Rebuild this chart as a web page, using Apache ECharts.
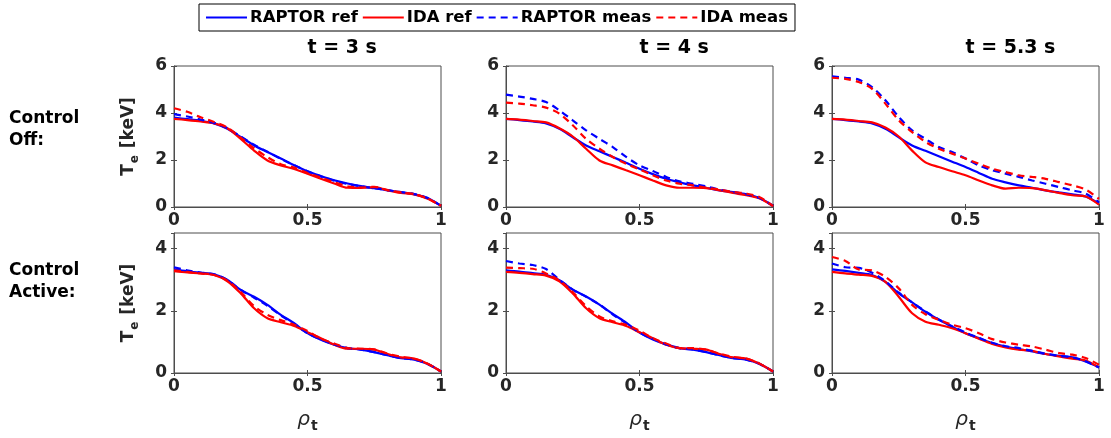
<!DOCTYPE html>
<html>
<head>
<meta charset="utf-8">
<script src="https://cdn.jsdelivr.net/npm/echarts@6/dist/echarts.min.js"></script>
<style>
  html, body { margin: 0; padding: 0; background: #fff; }
  #main { width: 1111px; height: 438px; }
</style>
</head>
<body>
<div id="main"></div>
<script>
// rho_t grid
var rho = [0, 0.05, 0.1, 0.15, 0.2, 0.25, 0.3, 0.35, 0.4, 0.45, 0.5, 0.55, 0.6, 0.65, 0.7, 0.75, 0.8, 0.85, 0.9, 0.95, 1];

var titulos = ['t = 3 s', 't = 4 s', 't = 5.3 s'];
var seriesNames = ['RAPTOR ref', 'IDA ref', 'RAPTOR meas', 'IDA meas'];
var xTicks = [0, 0.5, 1];
var yMaxLinha = [6, 4.5];

// Control Off
var raptorRef1 = [3.8, 3.74, 3.67, 3.56, 3.33, 2.98, 2.62, 2.34, 2.06, 1.78, 1.52, 1.32, 1.14, 1.0, 0.89, 0.8, 0.71, 0.63, 0.54, 0.38, 0.05];
var idaRef1 = [3.75, 3.7, 3.64, 3.56, 3.35, 2.9, 2.4, 1.98, 1.77, 1.62, 1.42, 1.2, 1.0, 0.82, 0.81, 0.85, 0.71, 0.6, 0.54, 0.35, 0.05];
var raptorMeas1 = [3.95, 3.85, 3.72, 3.58, 3.35, 3.0, 2.65, 2.35, 2.05, 1.78, 1.52, 1.3, 1.12, 0.98, 0.88, 0.8, 0.72, 0.63, 0.55, 0.38, 0.05];
var idaMeas1 = [4.2, 4.05, 3.82, 3.62, 3.38, 2.95, 2.5, 2.12, 1.82, 1.68, 1.45, 1.25, 1.05, 0.88, 0.83, 0.86, 0.72, 0.62, 0.55, 0.36, 0.05];

var raptorRef2 = [3.75, 3.7, 3.64, 3.56, 3.33, 2.97, 2.62, 2.37, 2.13, 1.88, 1.63, 1.4, 1.2, 1.05, 0.92, 0.82, 0.71, 0.63, 0.54, 0.38, 0.05];
var idaRef2 = [3.75, 3.72, 3.66, 3.6, 3.35, 3.0, 2.48, 1.98, 1.77, 1.56, 1.35, 1.13, 0.92, 0.82, 0.82, 0.8, 0.71, 0.6, 0.5, 0.36, 0.04];
var raptorMeas2 = [4.78, 4.7, 4.6, 4.47, 4.11, 3.69, 3.26, 2.9, 2.55, 2.13, 1.77, 1.53, 1.28, 1.09, 0.99, 0.88, 0.74, 0.64, 0.54, 0.38, 0.05];
var idaMeas2 = [4.44, 4.4, 4.33, 4.23, 3.97, 3.48, 2.9, 2.48, 2.13, 1.84, 1.6, 1.35, 1.13, 0.99, 0.92, 0.82, 0.74, 0.64, 0.57, 0.42, 0.04];

var raptorRef3 = [3.75, 3.7, 3.64, 3.56, 3.33, 2.97, 2.62, 2.39, 2.16, 1.93, 1.7, 1.45, 1.2, 1.05, 0.92, 0.82, 0.71, 0.62, 0.54, 0.45, 0.15];
var idaRef3 = [3.75, 3.72, 3.66, 3.6, 3.38, 3.0, 2.4, 1.9, 1.7, 1.52, 1.35, 1.13, 0.92, 0.78, 0.82, 0.8, 0.71, 0.6, 0.5, 0.45, 0.1];
var raptorMeas3 = [5.56, 5.5, 5.42, 5.1, 4.54, 3.83, 3.26, 2.9, 2.55, 2.34, 2.06, 1.77, 1.56, 1.42, 1.28, 1.13, 0.99, 0.85, 0.71, 0.57, 0.2];
var idaMeas3 = [5.5, 5.45, 5.32, 5.03, 4.4, 3.69, 3.19, 2.77, 2.48, 2.27, 2.06, 1.84, 1.63, 1.49, 1.35, 1.28, 1.2, 1.06, 0.92, 0.74, 0.35];

// Control Active
var raptorRef4 = [3.33, 3.27, 3.22, 3.17, 2.99, 2.67, 2.45, 2.19, 1.87, 1.6, 1.28, 1.07, 0.91, 0.8, 0.75, 0.67, 0.57, 0.48, 0.43, 0.29, 0.05];
var idaRef4 = [3.27, 3.23, 3.2, 3.15, 2.95, 2.56, 2.08, 1.76, 1.63, 1.51, 1.31, 1.12, 0.91, 0.78, 0.78, 0.75, 0.61, 0.5, 0.46, 0.3, 0.05];
var raptorMeas4 = [3.4, 3.3, 3.23, 3.17, 2.99, 2.67, 2.42, 2.16, 1.85, 1.58, 1.28, 1.08, 0.92, 0.8, 0.75, 0.67, 0.57, 0.48, 0.43, 0.29, 0.05];
var idaMeas4 = [3.3, 3.25, 3.2, 3.15, 2.97, 2.6, 2.15, 1.87, 1.7, 1.55, 1.35, 1.1, 0.95, 0.8, 0.78, 0.76, 0.62, 0.52, 0.46, 0.3, 0.05];

var raptorRef5 = [3.3, 3.26, 3.21, 3.16, 2.98, 2.68, 2.46, 2.2, 1.9, 1.62, 1.3, 1.08, 0.92, 0.8, 0.75, 0.67, 0.57, 0.48, 0.43, 0.29, 0.05];
var idaRef5 = [3.25, 3.22, 3.18, 3.13, 2.95, 2.56, 2.08, 1.76, 1.63, 1.51, 1.31, 1.12, 0.91, 0.8, 0.78, 0.75, 0.61, 0.5, 0.46, 0.3, 0.05];
var raptorMeas5 = [3.6, 3.52, 3.47, 3.34, 3.0, 2.68, 2.45, 2.2, 1.88, 1.6, 1.3, 1.1, 0.92, 0.8, 0.76, 0.67, 0.57, 0.48, 0.43, 0.29, 0.05];
var idaMeas5 = [3.39, 3.37, 3.35, 3.2, 2.97, 2.6, 2.15, 1.82, 1.66, 1.55, 1.36, 1.12, 0.95, 0.8, 0.8, 0.75, 0.62, 0.52, 0.46, 0.3, 0.05];

var raptorRef6 = [3.33, 3.28, 3.22, 3.15, 2.93, 2.56, 2.27, 1.97, 1.71, 1.49, 1.28, 1.12, 0.96, 0.85, 0.77, 0.69, 0.61, 0.55, 0.5, 0.37, 0.18];
var idaRef6 = [3.25, 3.2, 3.16, 3.12, 2.93, 2.45, 1.92, 1.65, 1.55, 1.44, 1.28, 1.1, 0.93, 0.82, 0.75, 0.71, 0.61, 0.53, 0.46, 0.4, 0.18];
var raptorMeas6 = [3.52, 3.4, 3.38, 3.22, 2.95, 2.58, 2.27, 1.98, 1.72, 1.5, 1.3, 1.13, 0.97, 0.86, 0.8, 0.71, 0.62, 0.55, 0.5, 0.38, 0.18];
var idaMeas6 = [3.73, 3.6, 3.33, 3.3, 3.09, 2.72, 2.19, 1.89, 1.71, 1.55, 1.44, 1.28, 1.09, 0.98, 0.91, 0.85, 0.75, 0.64, 0.59, 0.48, 0.27];

var paineis = [
	[raptorRef1, idaRef1, raptorMeas1, idaMeas1],
	[raptorRef2, idaRef2, raptorMeas2, idaMeas2],
	[raptorRef3, idaRef3, raptorMeas3, idaMeas3],
	[raptorRef4, idaRef4, raptorMeas4, idaMeas4],
	[raptorRef5, idaRef5, raptorMeas5, idaMeas5],
	[raptorRef6, idaRef6, raptorMeas6, idaMeas6]
];

var cores = ['#0000ff', '#ff0000', '#0000ff', '#ff0000'];
var tipos = ['solid', 'solid', [7, 5], [7, 5]];

var fonte = 'DejaVu Sans';
var corTexto = '#262626';
var colLeft = [174, 506, 832];
var colWidth = 267;
var rowTop = [66, 233];
var rowHeight = [141, 140];

var grids = [], xAxes = [], yAxes = [], series = [], graphics = [];

function juntar(xs, ys) {
	return xs.map(function(x, i) { return [x, ys[i]]; });
}

for (let p = 0; p < 6; p++) {
	let linha = Math.floor(p / 3);
	let col = p % 3;
	grids.push({
		left: colLeft[col], top: rowTop[linha], width: colWidth, height: rowHeight[linha],
		show: true, borderColor: '#4d4d4d', borderWidth: 1, backgroundColor: '#fff'
	});

	let eixoX = {
		type: 'value', gridIndex: p, min: 0, max: 1, interval: 0.5,
		axisLine: { show: true, lineStyle: { color: '#4d4d4d', width: 1 } },
		axisTick: { show: true, inside: true, length: 3, lineStyle: { color: '#4d4d4d' } },
		axisLabel: {
			color: corTexto, fontFamily: fonte, fontWeight: 'bold', fontSize: 17, margin: 5,
			formatter: function(v) { return xTicks.indexOf(v) >= 0 ? String(v) : ''; }
		},
		splitLine: { show: false }
	};
	if (linha === 1) {
		eixoX.name = '{r|ρ}{s|t}';
		eixoX.nameLocation = 'middle';
		eixoX.nameGap = 34;
		eixoX.nameTextStyle = {
			rich: {
				r: { fontFamily: fonte, fontSize: 20, color: corTexto, fontStyle: 'italic', lineHeight: 24 },
				s: { fontFamily: fonte, fontSize: 14, fontWeight: 'bold', color: corTexto, padding: [12, 0, 0, 1] }
			}
		};
	}
	xAxes.push(eixoX);
	xAxes.push({
		type: 'value', gridIndex: p, min: 0, max: 1, interval: 0.5, position: 'top',
		axisLine: { show: false }, axisLabel: { show: false }, splitLine: { show: false },
		axisTick: { show: true, inside: true, length: 3, lineStyle: { color: '#4d4d4d' } }
	});

	let eixoY = {
		type: 'value', gridIndex: p, min: 0, max: yMaxLinha[linha], interval: 2,
		axisLine: { show: true, lineStyle: { color: '#4d4d4d', width: 1 } },
		axisTick: { show: true, inside: true, length: 3, lineStyle: { color: '#4d4d4d' } },
		axisLabel: {
			color: corTexto, fontFamily: fonte, fontWeight: 'bold', fontSize: 17, margin: 7,
			showMaxLabel: linha === 0
		},
		splitLine: { show: false }
	};
	if (col === 0) {
		eixoY.name = '{a|T}{b|e}{a| [keV]}';
		eixoY.nameLocation = 'middle';
		eixoY.nameGap = 33;
		eixoY.nameRotate = 90;
		eixoY.nameTextStyle = {
			rich: {
				a: { fontFamily: fonte, fontSize: 17, fontWeight: 'bold', color: corTexto, lineHeight: 24 },
				b: { fontFamily: fonte, fontSize: 12, fontWeight: 'bold', color: corTexto, padding: [11, 1, 0, 1] }
			}
		};
	}
	yAxes.push(eixoY);
	yAxes.push({
		type: 'value', gridIndex: p, min: 0, max: yMaxLinha[linha], interval: 2, position: 'right',
		axisLine: { show: false }, axisLabel: { show: false }, splitLine: { show: false },
		axisTick: { show: true, inside: true, length: 3, lineStyle: { color: '#4d4d4d' } }
	});

	for (let s = 0; s < 4; s++) {
		series.push({
			name: seriesNames[s],
			type: 'line',
			xAxisIndex: p * 2,
			yAxisIndex: p * 2,
			data: juntar(rho, paineis[p][s]),
			showSymbol: false,
			symbol: 'none',
			smooth: 0.3,
			lineStyle: { color: cores[s], width: 2.2, type: tipos[s] },
			itemStyle: { color: cores[s] },
			z: 2 + s
		});
	}

	if (linha === 0) {
		graphics.push({
			type: 'text', left: colLeft[col] + colWidth / 2, top: 39,
			style: { text: titulos[col], font: 'bold 19px "DejaVu Sans"', fill: '#000', textAlign: 'center' }
		});
	}
}

graphics.push({
	type: 'text', left: 9, top: 108,
	style: { text: 'Control\nOff:', font: 'bold 17px "DejaVu Sans"', fill: '#000', lineHeight: 22 }
});
graphics.push({
	type: 'text', left: 9, top: 260,
	style: { text: 'Control\nActive:', font: 'bold 17px "DejaVu Sans"', fill: '#000', lineHeight: 22 }
});

var option = {
	animation: false,
	backgroundColor: '#fff',
	legend: {
		data: seriesNames,
		left: 199, top: 4,
		orient: 'horizontal',
		itemWidth: 41, itemHeight: 3, itemGap: 4,
		padding: [5, 7, 5, 6],
		borderColor: '#000', borderWidth: 1,
		itemStyle: { opacity: 0 },
		textStyle: { fontFamily: fonte, fontWeight: 'bold', fontSize: 16.5, color: '#000', padding: [0, 0, 0, -2] }
	},
	grid: grids,
	xAxis: xAxes,
	yAxis: yAxes,
	series: series,
	graphic: graphics
};

var myChart = echarts.init(document.getElementById('main'));
myChart.setOption(option);
</script>
</body>
</html>
